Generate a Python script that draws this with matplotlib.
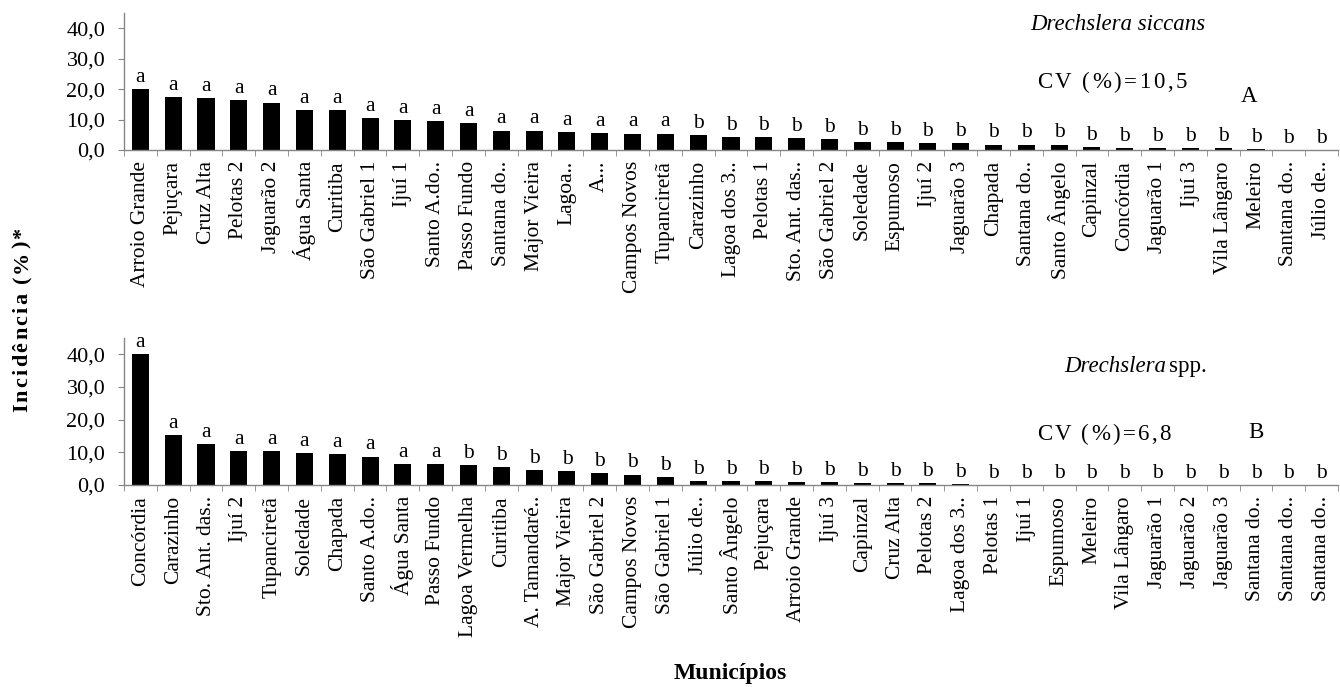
import matplotlib
matplotlib.use("Agg")
import matplotlib.pyplot as plt
import numpy as np

plt.rcParams["font.family"] = ["Liberation Serif", "DejaVu Serif"]

# ---- Drechslera siccans ----
siccans_labels = [
    "Arroio Grande", "Pejuçara", "Cruz Alta", "Pelotas 2", "Jaguarão 2",
    "Água Santa", "Curitiba", "São Gabriel 1", "Ijuí 1", "Santo A.do..",
    "Passo Fundo", "Santana do..", "Major Vieira", "Lagoa..", "A...",
    "Campos Novos", "Tupanciretã", "Carazinho", "Lagoa dos 3..", "Pelotas 1",
    "Sto. Ant. das..", "São Gabriel 2", "Soledade", "Espumoso", "Ijuí 2",
    "Jaguarão 3", "Chapada", "Santana do..", "Santo Ângelo", "Capinzal",
    "Concórdia", "Jaguarão 1", "Ijuí 3", "Vila Lângaro", "Meleiro",
    "Santana do..", "Júlio de..",
]
siccans_values = [
    20.0, 17.5, 17.1, 16.4, 15.6, 13.0, 13.0, 10.5, 9.7, 9.4,
    9.0, 6.4, 6.4, 6.0, 5.7, 5.4, 5.4, 4.8, 4.4, 4.4,
    4.0, 3.6, 2.5, 2.5, 2.2, 2.2, 1.8, 1.8, 1.8, 1.1,
    0.7, 0.7, 0.6, 0.6, 0.4, 0.0, 0.0,
]
siccans_letters = ["a"] * 17 + ["b"] * 20

# ---- Drechslera spp. ----
spp_labels = [
    "Concórdia", "Carazinho", "Sto. Ant. das..", "Ijuí 2", "Tupanciretã",
    "Soledade", "Chapada", "Santo A.do..", "Água Santa", "Passo Fundo",
    "Lagoa Vermelha", "Curitiba", "A. Tamandaré..", "Major Vieira", "São Gabriel 2",
    "Campos Novos", "São Gabriel 1", "Júlio de..", "Santo Ângelo", "Pejuçara",
    "Arroio Grande", "Ijuí 3", "Capinzal", "Cruz Alta", "Pelotas 2",
    "Lagoa dos 3..", "Pelotas 1", "Ijuí 1", "Espumoso", "Meleiro",
    "Vila Lângaro", "Jaguarão 1", "Jaguarão 2", "Jaguarão 3", "Santana do..",
    "Santana do..", "Santana do..",
]
spp_values = [
    40.0, 15.3, 12.5, 10.4, 10.4, 9.7, 9.4, 8.7, 6.4, 6.4,
    6.0, 5.6, 4.5, 4.2, 3.6, 3.2, 2.5, 1.3, 1.2, 1.2,
    0.8, 0.8, 0.5, 0.5, 0.5, 0.2, 0.0, 0.0, 0.0, 0.0,
    0.0, 0.0, 0.0, 0.0, 0.0, 0.0, 0.0,
]
spp_letters = ["a"] * 10 + ["b"] * 27

y_ticks = [0, 10, 20, 30, 40]
y_ticklabels = [f"{v:.1f}".replace(".", ",") for v in y_ticks]

W, H = 1340, 687
fig = plt.figure(figsize=(W / 100, H / 100), dpi=100)

AXIS_GREY = "#868686"


def px(x, y_from_top):
    return x / W, 1 - y_from_top / H


def draw_panel(ax, labels, values, letters):
    n = len(labels)
    x = np.arange(n)
    ax.bar(x, values, width=0.52, color="black", zorder=2)
    ax.set_xlim(-0.5, n - 0.5)
    ax.set_ylim(0, 45)
    ax.set_yticks(y_ticks)
    ax.set_yticklabels(y_ticklabels, fontsize=16)
    ax.set_xticks(x)
    ax.set_xticklabels(labels, rotation=90, fontsize=15.5)
    ax.set_xticks(np.arange(-0.5, n), minor=True)
    ax.tick_params(axis="x", which="major", length=0, pad=8)
    ax.tick_params(axis="x", which="minor", length=4.5, color=AXIS_GREY, direction="out")
    ax.tick_params(axis="y", length=4.5, color=AXIS_GREY, pad=9)
    for s in ("top", "right"):
        ax.spines[s].set_visible(False)
    for s in ("left", "bottom"):
        ax.spines[s].set_color(AXIS_GREY)
        ax.spines[s].set_linewidth(1.0)
    for xi, v, letter in zip(x, values, letters):
        ax.annotate(letter, (xi, v), xytext=(0, 1.5), textcoords="offset points",
                    ha="center", va="bottom", fontsize=15.5)


ax1 = fig.add_axes([124 / W, 537 / H, 1214 / W, 137 / H])
draw_panel(ax1, siccans_labels, siccans_values, siccans_letters)

ax2 = fig.add_axes([124 / W, 202 / H, 1214 / W, 147 / H])
draw_panel(ax2, spp_labels, spp_values, spp_letters)

renderer = fig.canvas.get_renderer()


def text_width(s, **kw):
    t = fig.text(0, 0, s, **kw)
    w = t.get_window_extent(renderer).width
    t.remove()
    return w


def spaced_text(text, x_left_px, y_center_top_px, total_len_px, **kw):
    """Horizontal text with extra letter spacing, left edge at x_left_px."""
    full = text_width(text, **kw)
    gap = max(0.0, (total_len_px - full) / (len(text) - 1))
    for i, ch in enumerate(text):
        if ch == " ":
            continue
        left = text_width(text[: i + 1], **kw) - text_width(ch, **kw)
        fig.text((x_left_px + left + gap * i) / W, 1 - y_center_top_px / H, ch,
                 ha="left", va="center_baseline", **kw)


def spaced_vertical_text(text, x_base_px, y_center_px, total_len_px, **kw):
    """Text reading bottom-to-top with extra letter spacing."""
    full = text_width(text, **kw)
    gap = max(0.0, (total_len_px - full) / (len(text) - 1))
    start = y_center_px - (full + gap * (len(text) - 1)) / 2
    for i, ch in enumerate(text):
        if ch == " ":
            continue
        left = text_width(text[: i + 1], **kw) - text_width(ch, **kw)
        y = start + left + gap * i
        fig.text(x_base_px / W, y / H, ch, rotation=90, rotation_mode="anchor",
                 ha="left", va="baseline", **kw)


# panel annotations
fig.text(*px(1118, 24), "Drechslera siccans", style="italic", fontsize=16.5,
         ha="center", va="center")
spaced_text("CV (%)=10,5", 1037, 80, 150, fontsize=16.5)
fig.text(*px(1249, 97), "A", fontsize=16.5, ha="center", va="center")

fig.text(*px(1166, 367), "Drechslera", style="italic", fontsize=16.5,
         ha="right", va="center")
fig.text(*px(1169, 367), "spp.", fontsize=16.5, ha="left", va="center")
spaced_text("CV (%)=6,8", 1037, 432, 134, fontsize=16.5)
fig.text(*px(1256, 432), "B", fontsize=16.5, ha="center", va="center")

fig.text(*px(730, 674), "Municípios", fontsize=17, fontweight="bold",
         ha="center", va="center")

spaced_vertical_text("Incidência (%)*", 27, H - 320, 185,
                     fontsize=16, fontweight="bold")

fig.savefig("out.png", dpi=100)
